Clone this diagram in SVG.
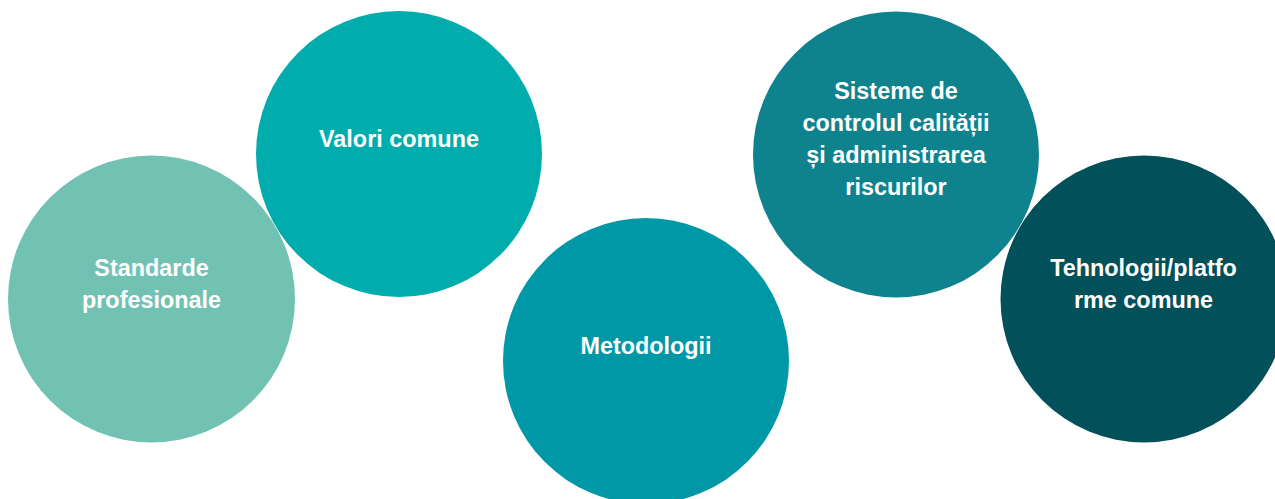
<svg xmlns="http://www.w3.org/2000/svg" width="1275" height="499" viewBox="0 0 1275 499">
<style>
text{font-family:"Liberation Sans",Arial,sans-serif;font-weight:bold;font-size:23.4px;fill:#ffffff;text-anchor:middle}
</style>
<rect width="1275" height="499" fill="#ffffff"/>
<g id="node-standarde">
<circle cx="151.5" cy="299" r="143.5" fill="#71C2B3"/>
<text x="151.5" y="276">Standarde</text>
<text x="151.5" y="307.5">profesionale</text>
</g>
<g id="node-valori">
<circle cx="399" cy="154" r="143" fill="#00ACAC"/>
<text x="399" y="147">Valori comune</text>
</g>
<g id="node-metodologii">
<circle cx="646" cy="361" r="143" fill="#0097A7"/>
<text x="646" y="354">Metodologii</text>
</g>
<g id="node-sisteme">
<circle cx="896" cy="154.5" r="143" fill="#0E838D"/>
<text x="896" y="99">Sisteme de</text>
<text x="896" y="131">controlul calității</text>
<text x="896" y="163">și administrarea</text>
<text x="896" y="195">riscurilor</text>
</g>
<g id="node-tehnologii">
<circle cx="1144" cy="299" r="143.5" fill="#02505A"/>
<text x="1143.5" y="276">Tehnologii/platfo</text>
<text x="1143.5" y="307.5">rme comune</text>
</g>
<g id="connectors"></g>
</svg>
